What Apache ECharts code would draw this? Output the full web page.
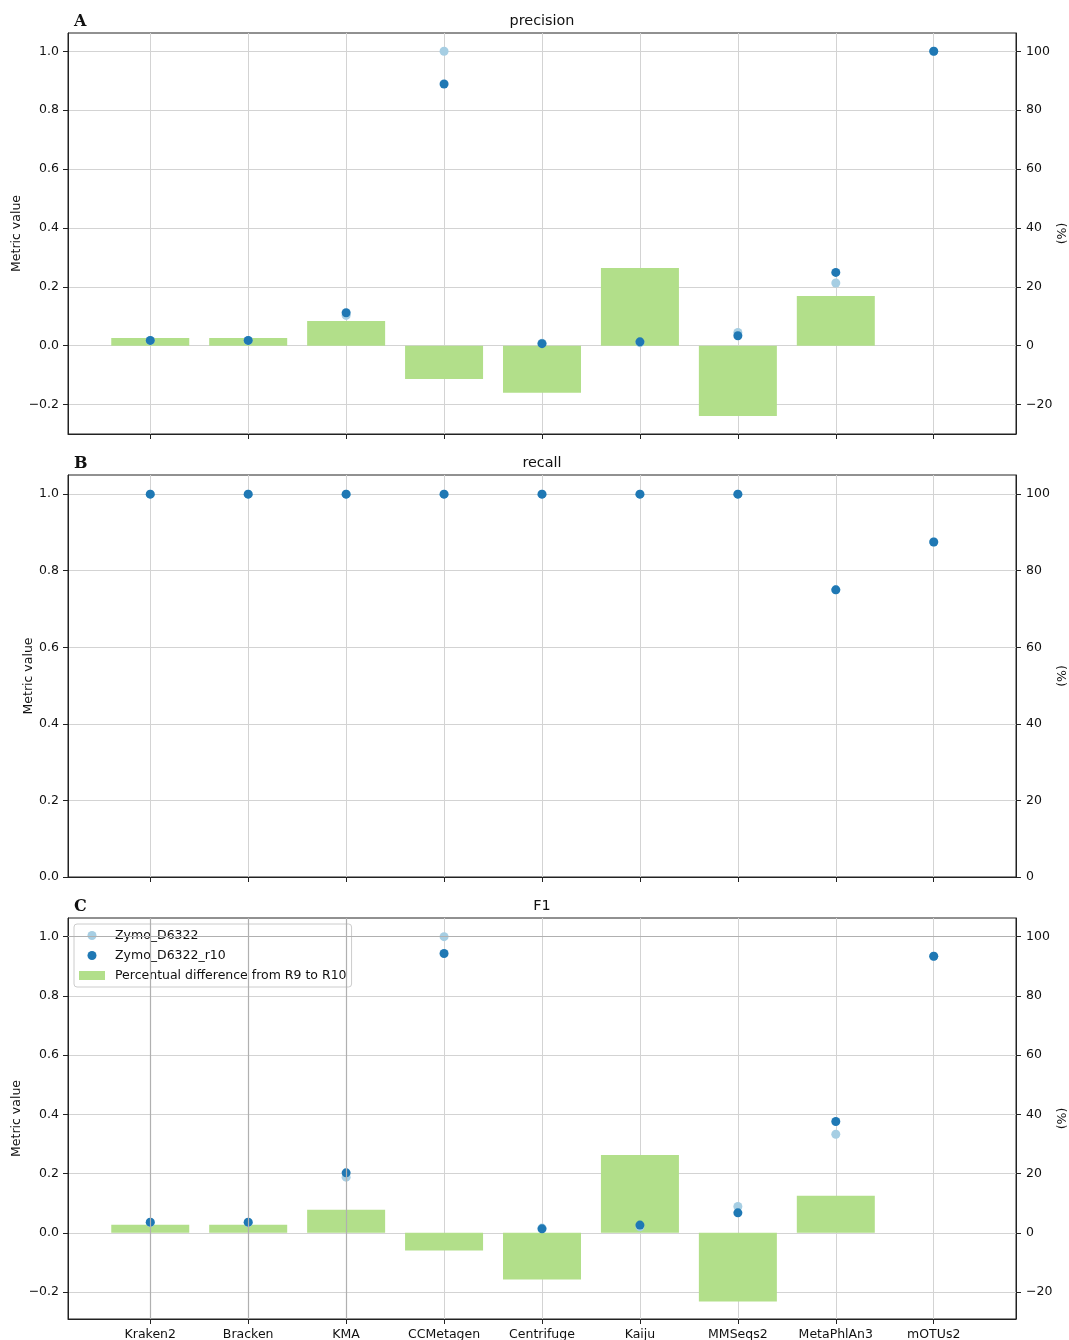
<!DOCTYPE html>
<html><head><meta charset="utf-8">
<script src="https://cdn.jsdelivr.net/npm/echarts@6/dist/echarts.min.js"></script>
<style>html,body{margin:0;padding:0;background:#fff}#c{width:1069px;height:1340px}</style>
</head><body><div id="c"></div>
<script>
// ---- data ----
const categories = ['Kraken2','Bracken','KMA','CCMetagen','Centrifuge','Kaiju','MMSeqs2','MetaPhlAn3','mOTUs2'];
const precisionR9  = [0.0175,0.0175,0.103,1.0,0.0083,0.0105,0.045,0.213,1.0];
const precisionR10 = [0.018,0.018,0.112,0.889,0.007,0.0133,0.034,0.249,1.0];
const precisionDiff = [2.6,2.6,8.4,-11.3,-16.0,26.4,-23.9,16.9,0];
const recallR9  = [1,1,1,1,1,1,1,0.75,0.875];
const recallR10 = [1,1,1,1,1,1,1,0.75,0.875];
const recallDiff = [0,0,0,0,0,0,0,0,0];
const f1R9  = [0.035,0.035,0.188,1.0,0.016,0.0206,0.089,0.333,0.934];
const f1R10 = [0.036,0.036,0.2025,0.943,0.0135,0.026,0.0675,0.376,0.934];
const f1Diff = [2.7,2.7,7.8,-6.0,-15.8,26.3,-23.2,12.5,0];
const metricTicksAC = [-0.2,0,0.2,0.4,0.6,0.8,1.0];
const metricTicksB  = [0,0.2,0.4,0.6,0.8,1.0];
const pctTicksAC = [-20,0,20,40,60,80,100];
const pctTicksB  = [0,20,40,60,80,100];
const categoryTicks = [0,1,2,3,4,5,6,7,8];
const panelTitles = ['precision','recall','F1'];
const panelLetters = ['A','B','C'];
const seriesNames = ['Zymo_D6322','Zymo_D6322_r10','Percentual difference from R9 to R10'];
const darkGridX = [0,1,2];
const darkGridY = [1.0];

// ---- layout ----
const FONT = 'DejaVu Sans';
const FS = 12.5;
const gridTops = [33,475,918];
const gridHeights = [401,402,401];
const metricLim = [[-0.2997,1.062],[0,1.05],[-0.291,1.063]];
const pctLim = [[-29.97,106.2],[0,105],[-29.1,106.3]];
const panels = [
  {r9: precisionR9, r10: precisionR10, diff: precisionDiff, mt: metricTicksAC, pt: pctTicksAC, split: 7},
  {r9: recallR9, r10: recallR10, diff: recallDiff, mt: metricTicksB, pt: pctTicksB, split: 5},
  {r9: f1R9, r10: f1R10, diff: f1Diff, mt: metricTicksAC, pt: pctTicksAC, split: 7}
];
const minus = '\u2212';
const fmtMetric = v => (v < -1e-9 ? minus : '') + Math.abs(v).toFixed(1);
const fmtPct = v => (v < -1e-9 ? minus : '') + Math.abs(Math.round(v));
const axisCol = '#222';
const gridCol = '#d3d3d3';

const grid = [], xAxis = [], yAxis = [], series = [], title = [];
panels.forEach((p, i) => {
  grid.push({left: 68, right: 53, top: gridTops[i], height: gridHeights[i], containLabel: false,
    outerBoundsMode: 'none',
    show: true, borderColor: axisCol, borderWidth: 1});
  xAxis.push({type: 'value', gridIndex: i, min: -0.84, max: 8.84, splitNumber: 10,
    axisLine: {show: true, onZero: false, lineStyle: {color: axisCol}},
    axisTick: {show: true, inside: false, length: 5, customValues: categoryTicks, lineStyle: {color: axisCol}},
    axisLabel: {show: i === 2, customValues: categoryTicks, formatter: v => categories[Math.round(v)],
      fontSize: FS, color: '#111', fontFamily: FONT, margin: 9},
    splitLine: {show: true, lineStyle: {color: gridCol, width: 1}}});
  yAxis.push({type: 'value', gridIndex: i, position: 'left', min: metricLim[i][0], max: metricLim[i][1], splitNumber: p.split,
    name: 'Metric value', nameLocation: 'middle', nameGap: i === 1 ? 33 : 45, nameMoveOverlap: false,
    nameTextStyle: {fontSize: FS, color: '#111', fontFamily: FONT},
    axisLine: {show: true, onZero: false, lineStyle: {color: axisCol}},
    axisTick: {show: true, inside: false, length: 5, customValues: p.mt, lineStyle: {color: axisCol}},
    axisLabel: {customValues: p.mt, formatter: fmtMetric, fontSize: FS, color: '#111', fontFamily: FONT, margin: 9},
    splitLine: {show: true, lineStyle: {color: gridCol, width: 1}}});
  yAxis.push({type: 'value', gridIndex: i, position: 'right', min: pctLim[i][0], max: pctLim[i][1], splitNumber: p.split,
    name: '(%)', nameLocation: 'middle', nameGap: 40, nameMoveOverlap: false,
    nameTextStyle: {fontSize: FS, color: '#111', fontFamily: FONT},
    axisLine: {show: true, onZero: false, lineStyle: {color: axisCol}},
    axisTick: {show: true, inside: false, length: 5, customValues: p.pt, lineStyle: {color: axisCol}},
    axisLabel: {customValues: p.pt, formatter: fmtPct, fontSize: FS, color: '#111', fontFamily: FONT, margin: 10},
    splitLine: {show: false}});
  series.push({type: 'bar', name: seriesNames[2], xAxisIndex: i, yAxisIndex: 2*i+1,
    data: p.diff.map((v, j) => [j, v]), barWidth: 78, itemStyle: {color: '#b2df8a'}, z: 2, silent: true});
  series.push({type: 'scatter', name: seriesNames[0], xAxisIndex: i, yAxisIndex: 2*i,
    data: p.r9.map((v, j) => [j, v]), symbolSize: 9, itemStyle: {color: '#a6cee3', opacity: 1}, z: 3, silent: true});
  series.push({type: 'scatter', name: seriesNames[1], xAxisIndex: i, yAxisIndex: 2*i,
    data: p.r10.map((v, j) => [j, v]), symbolSize: 9, itemStyle: {color: '#1f78b4', opacity: 1}, z: 4, silent: true});
  title.push({text: panelTitles[i], left: 542, top: gridTops[i] - 19, textAlign: 'center', padding: 0,
    textStyle: {fontSize: 14.4, fontWeight: 'normal', color: '#111', fontFamily: FONT}});
  title.push({text: panelLetters[i], left: 74, top: gridTops[i] - 19, padding: 0,
    textStyle: {fontSize: 16, fontWeight: 'bold', color: '#111', fontFamily: 'DejaVu Serif'}});
});
series.push({type: 'line', name: 'darkgrid', xAxisIndex: 2, yAxisIndex: 4, data: [], z: 1, silent: true,
  markLine: {silent: true, symbol: ['none','none'], label: {show: false}, animation: false,
    lineStyle: {color: '#b0b0b0', type: 'solid', width: 1.2},
    data: darkGridX.map(v => ({xAxis: v})).concat(darkGridY.map(v => ({yAxis: v})))}});

const chart = echarts.init(document.getElementById('c'), null, {renderer: 'canvas'});
chart.setOption({
  animation: false,
  backgroundColor: '#fff',
  title, grid, xAxis, yAxis, series,
  legend: {show: true, selectedMode: false, orient: 'vertical', left: 74, top: 924, padding: 5,
    itemWidth: 26, itemHeight: 9, itemGap: 7,
    backgroundColor: 'rgba(255,255,255,0.8)', borderColor: '#ccc', borderWidth: 1, borderRadius: 3,
    textStyle: {fontSize: FS, color: '#111', fontFamily: FONT, padding: [0,0,0,5]},
    data: [{name: seriesNames[0], icon: 'circle'}, {name: seriesNames[1], icon: 'circle'}, {name: seriesNames[2], icon: 'rect'}]}
});
</script></body></html>
